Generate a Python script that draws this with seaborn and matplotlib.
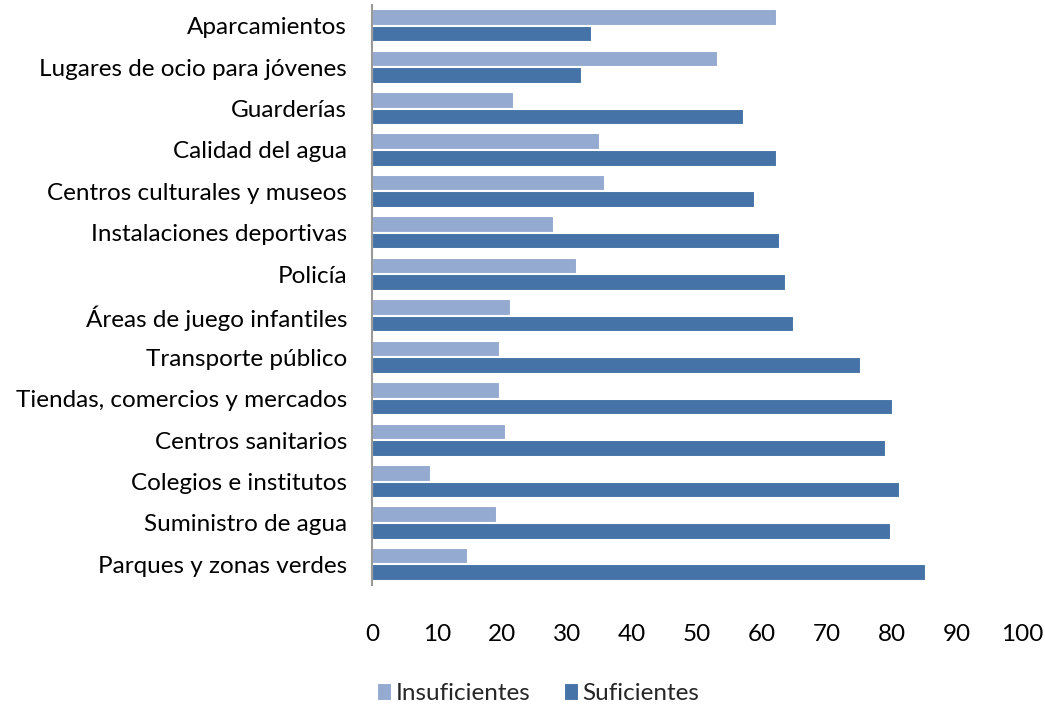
import matplotlib
matplotlib.use("Agg")
import matplotlib.pyplot as plt
import seaborn as sns
import pandas as pd

categorias = [
    "Aparcamientos",
    "Lugares de ocio para jóvenes",
    "Guarderías",
    "Calidad del agua",
    "Centros culturales y museos",
    "Instalaciones deportivas",
    "Policía",
    "Áreas de juego infantiles",
    "Transporte público",
    "Tiendas, comercios y mercados",
    "Centros sanitarios",
    "Colegios e institutos",
    "Suministro de agua",
    "Parques y zonas verdes",
]
insuficientes = [62.3, 53.2, 21.8, 35.0, 35.8, 28.0, 31.5, 21.4, 19.7, 19.7, 20.6, 9.1, 19.2, 14.8]
suficientes = [33.8, 32.3, 57.2, 62.3, 58.9, 62.8, 63.7, 64.9, 75.2, 80.2, 79.1, 81.2, 79.8, 85.2]
series = ["Insuficientes", "Suficientes"]
colores = ["#95AAD1", "#4573A7"]

df = pd.DataFrame({
    "categoria": categorias * 2,
    "valor": insuficientes + suficientes,
    "serie": [series[0]] * len(categorias) + [series[1]] * len(categorias),
})

sns.set_style("white")
plt.rcParams["font.family"] = ["Lato", "DejaVu Sans"]

fig = plt.figure(figsize=(10.45, 7.05), dpi=100)
ax = fig.add_axes([0.356, 0.170, 0.622, 0.823])

sns.barplot(data=df, y="categoria", x="valor", hue="serie", order=categorias,
            hue_order=series, palette=colores, orient="h", width=0.8,
            edgecolor="white", linewidth=1.5, saturation=1, ax=ax)

ax.set_xlim(0, 100)
ax.set_xticks(range(0, 101, 10))
ax.set_xlabel("")
ax.set_ylabel("")
ax.tick_params(axis="x", length=0, pad=28, labelsize=17.5, labelcolor="black")
ax.tick_params(axis="y", length=0, pad=18, labelsize=17.5, labelcolor="black")
for s in ["top", "right", "bottom"]:
    ax.spines[s].set_visible(False)
ax.spines["left"].set_color("#999999")
ax.spines["left"].set_linewidth(1.5)

handles, labels = ax.get_legend_handles_labels()
ax.get_legend().remove()
fig.legend(handles, labels, loc="lower center", bbox_to_anchor=(0.515, -0.03),
           ncol=2, frameon=False, fontsize=17.5, handlelength=0.6, handleheight=0.8,
           handletextpad=0.15, columnspacing=1.4)

fig.savefig("out.png", dpi=100)
